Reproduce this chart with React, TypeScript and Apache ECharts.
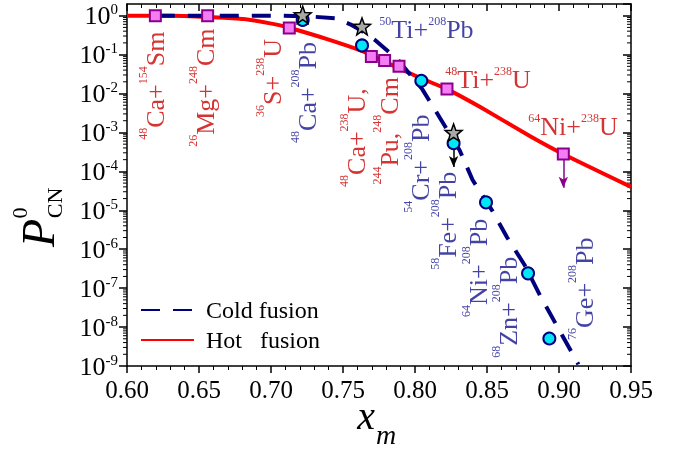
import React, { useEffect, useRef } from 'react';
import * as echarts from 'echarts';

const FONT = 'Liberation Serif';

// ---- Hot fusion curve (x_m, P_CN) ----
const hotCurveX = [0.600, 0.620, 0.640, 0.656, 0.681, 0.704, 0.7127, 0.739, 0.7643, 0.7697, 0.8037, 0.8222, 0.8453, 0.880, 0.9028, 0.950];
const hotCurveP = [1.0, 1.0, 0.98, 0.93, 0.82, 0.59, 0.49, 0.25, 0.12, 0.095, 0.025, 0.013, 4.5e-3, 8e-4, 2.8e-4, 4e-5];

// ---- Cold fusion curve ----
const coldCurveX = [0.620, 0.700, 0.725, 0.745, 0.755, 0.762, 0.772, 0.788, 0.805, 0.8145, 0.831, 0.840, 0.8535, 0.864, 0.876, 0.887, 0.899, 0.9135];
const coldCurveP = [1.0, 1.0, 0.97, 0.85, 0.6, 0.43, 0.24, 0.075, 0.013, 3.5e-3, 3.5e-4, 6e-5, 1.0e-5, 2e-6, 4e-7, 6.3e-8, 1e-8, 1.1e-9];

// ---- Hot fusion reactions (squares) ----
const hotPointX = [0.6197, 0.656, 0.7127, 0.7697, 0.7789, 0.7889, 0.8222, 0.9030];
const hotPointP = [1.0, 1.0, 0.48, 0.090, 0.071, 0.050, 0.013, 2.8e-4];

// ---- Cold fusion reactions (circles) ----
const coldPointX = [0.722, 0.7632, 0.8044, 0.8268, 0.8493, 0.8785, 0.8933];
const coldPointP = [0.78, 0.172, 0.0213, 5.3e-4, 1.6e-5, 2.4e-7, 5.1e-9];

// ---- Stars ----
const starX = [0.722, 0.7632, 0.8268];
const starP = [1.05, 0.53, 1.0e-3];

// ---- Upper-limit arrows [x, from P, to P] ----
const blackArrow = [0.8268, 1.0e-3, 1.3e-4];
const purpleArrow = [0.9030, 2.8e-4, 3.8e-5];

// ---- Reaction labels ----
const rotatedLabels = [
  '{s|48}{m|Ca+}{s|154}{m|Sm}',
  '{s|26}{m|Mg+}{s|248}{m|Cm}',
  '{s|36}{m|S+}{s|238}{m|U}',
  '{s|48}{m|Ca+}{s|208}{m|Pb}',
  '{s|48}{m|Ca+}{s|238}{m|U,}',
  '{s|244}{m|Pu,}{s|248}{m|Cm}',
  '{s|54}{m|Cr+}{s|208}{m|Pb}',
  '{s|58}{m|Fe+}{s|208}{m|Pb}',
  '{s|64}{m|Ni+}{s|208}{m|Pb}',
  '{s|68}{m|Zn+}{s|208}{m|Pb}',
  '{s|76}{m|Ge+}{s|208}{m|Pb}',
];
const rotatedIsHot = [true, true, true, false, true, true, false, false, false, false, false];
const rotatedAnchorX = [0.6197, 0.6544, 0.7009, 0.7252, 0.7592, 0.7821, 0.8037, 0.8224, 0.8440, 0.8648, 0.9176];
const rotatedAnchorLog = [-3.19, -3.37, -2.60, -3.27, -4.40, -4.34, -5.06, -6.53, -7.74, -8.79, -8.33];

const flatLabels = [
  '{s|50}{m|Ti+}{s|208}{m|Pb}',
  '{s|48}{m|Ti+}{s|238}{m|U}',
  '{s|64}{m|Ni+}{s|238}{m|U}',
];
const flatIsHot = [false, true, true];
const flatAnchorX = [0.7752, 0.8210, 0.8787];
const flatAnchorLog = [-0.347, -1.645, -2.853];

const RED_TEXT = '#cc0000';
const BLUE_TEXT = '#141490';
const NAVY = '#00007f';

const STAR = 'path://M0,-1 L0.247,-0.34 L0.951,-0.309 L0.399,0.13 L0.588,0.809 L0,0.42 L-0.588,0.809 L-0.399,0.13 L-0.951,-0.309 L-0.247,-0.34 Z';

export default function App() {
  const ref = useRef<HTMLDivElement>(null);

  useEffect(() => {
    const chart = echarts.init(ref.current!, null, { renderer: 'svg' });
    const lg = (p: number) => Math.log10(p);
    const pairs = (xs: number[], ps: number[]) => xs.map((x, i) => [x, lg(ps[i])]);

    // log minor tick positions (axis decoration)
    const minorLogs: number[][] = [];
    for (let d = -9; d <= 0; d++) {
      for (let k = 2; k <= 9; k++) {
        const v = d + Math.log10(k);
        if (v < 0.3) minorLogs.push([0.6, v]);
      }
    }

    const axisLine = { show: true, onZero: false, lineStyle: { color: '#000', width: 1.5 } };

    const option: any = {
      animation: false,
      textStyle: { fontFamily: FONT },
      grid: { left: 127, right: 50, top: 4, bottom: 84, containLabel: false },
      legend: {
        data: ['Cold fusion', 'Hot   fusion'],
        orient: 'vertical',
        left: 135,
        top: 293,
        itemWidth: 53,
        itemHeight: 14,
        itemGap: 6,
        selectedMode: false,
        itemStyle: { color: 'transparent', borderColor: 'transparent', borderWidth: 0, opacity: 0 },
        textStyle: { fontFamily: FONT, fontSize: 24, color: '#000', padding: [0, 0, 0, 7] },
      },
      xAxis: [
        {
          type: 'value', position: 'bottom', min: 0.6, max: 0.95, interval: 0.05,
          axisLine,
          axisTick: { show: true, inside: false, length: 7, lineStyle: { color: '#000', width: 1.5 } },
          minorTick: { show: true, splitNumber: 5, length: 4, lineStyle: { color: '#000', width: 1 } },
          axisLabel: { formatter: (v: number) => v.toFixed(2), fontFamily: FONT, fontSize: 25, color: '#000', margin: 11 },
          splitLine: { show: false },
          minorSplitLine: { show: false },
        },
        {
          type: 'value', position: 'top', min: 0.6, max: 0.95, interval: 0.05,
          axisLine,
          axisTick: { show: true, inside: true, length: 7, lineStyle: { color: '#000', width: 1.5 } },
          minorTick: { show: true, splitNumber: 5, length: 4, lineStyle: { color: '#000', width: 1 } },
          axisLabel: { show: false },
          splitLine: { show: false },
        },
      ],
      yAxis: [
        {
          type: 'value', position: 'left', min: -9, max: 0.3, interval: 1,
          axisLine,
          axisTick: { show: true, inside: false, length: 8, lineStyle: { color: '#000', width: 1.5 } },
          axisLabel: {
            showMaxLabel: false,
            margin: 9,
            fontFamily: FONT,
            fontSize: 26,
            color: '#000',
            formatter: (v: number) => (Math.abs(v - Math.round(v)) > 1e-6 ? '' : `{a|10}{b|${Math.round(v)}}`),
            rich: {
              a: { fontFamily: FONT, fontSize: 26, lineHeight: 28, color: '#000' },
              b: { fontFamily: FONT, fontSize: 15, lineHeight: 14, color: '#000', verticalAlign: 'top' },
            },
          },
          splitLine: { show: false },
        },
        {
          type: 'value', position: 'right', min: -9, max: 0.3, interval: 1,
          axisLine,
          axisTick: { show: true, inside: true, length: 8, lineStyle: { color: '#000', width: 1.5 } },
          axisLabel: { show: false },
          splitLine: { show: false },
        },
      ],
      series: [
        {
          name: 'Hot   fusion', type: 'line', data: pairs(hotCurveX, hotCurveP),
          symbol: 'none', smooth: 0.2, z: 2,
          itemStyle: { color: '#ff0000' },
          lineStyle: { color: '#ff0000', width: 4 },
        },
        {
          name: 'Cold fusion', type: 'line', data: pairs(coldCurveX, coldCurveP),
          symbol: 'none', z: 3,
          itemStyle: { color: NAVY },
          lineStyle: { color: NAVY, width: 4, type: [19, 13], cap: 'butt' },
        },
        {
          name: 'hotPts', type: 'scatter', data: pairs(hotPointX, hotPointP),
          symbol: 'rect', symbolSize: 11, z: 5,
          itemStyle: { color: '#f47cf4', borderColor: '#8b008b', borderWidth: 2, opacity: 1 },
          markLine: {
            silent: true, symbol: ['none', 'arrow'], symbolSize: [7, 11],
            label: { show: false },
            lineStyle: { color: '#8b008b', width: 1.5, type: 'solid' },
            data: [[{ coord: [purpleArrow[0], lg(purpleArrow[1])] }, { coord: [purpleArrow[0], lg(purpleArrow[2])] }]],
          },
        },
        {
          name: 'coldPts', type: 'scatter', data: pairs(coldPointX, coldPointP),
          symbol: 'circle', symbolSize: 12, z: 5,
          itemStyle: { color: '#00e8f4', borderColor: NAVY, borderWidth: 2, opacity: 1 },
        },
        {
          name: 'stars', type: 'scatter', data: pairs(starX, starP),
          symbol: STAR, symbolSize: 17, z: 6,
          itemStyle: { color: '#a8a8a8', borderColor: '#000', borderWidth: 1.5, opacity: 1 },
          markLine: {
            silent: true, symbol: ['none', 'arrow'], symbolSize: [7, 11],
            label: { show: false },
            lineStyle: { color: '#000', width: 1.5, type: 'solid' },
            data: [[{ coord: [blackArrow[0], lg(blackArrow[1])] }, { coord: [blackArrow[0], lg(blackArrow[2])] }]],
          },
        },
        {
          name: 'rotLabels', type: 'scatter', z: 7, silent: true,
          symbol: 'circle', symbolSize: 0,
          itemStyle: { color: 'transparent' },
          data: rotatedAnchorX.map((x, i) => ({
            value: [x, rotatedAnchorLog[i]],
            label: { color: rotatedIsHot[i] ? RED_TEXT : BLUE_TEXT },
          })),
          label: {
            show: true, position: 'inside', rotate: 90, align: 'left', verticalAlign: 'middle',
            fontFamily: FONT, fontSize: 26,
            formatter: (p: any) => rotatedLabels[p.dataIndex],
            rich: {
              m: { fontFamily: FONT, fontSize: 26, lineHeight: 37 },
              s: { fontFamily: FONT, fontSize: 12, lineHeight: 12, verticalAlign: 'top' },
            },
          },
        },
        {
          name: 'flatLabels', type: 'scatter', z: 7, silent: true,
          symbol: 'circle', symbolSize: 0,
          itemStyle: { color: 'transparent' },
          data: flatAnchorX.map((x, i) => ({
            value: [x, flatAnchorLog[i]],
            label: { color: flatIsHot[i] ? RED_TEXT : BLUE_TEXT },
          })),
          label: {
            show: true, position: 'inside', align: 'left', verticalAlign: 'middle',
            fontFamily: FONT, fontSize: 26,
            formatter: (p: any) => flatLabels[p.dataIndex],
            rich: {
              m: { fontFamily: FONT, fontSize: 26, lineHeight: 29 },
              s: { fontFamily: FONT, fontSize: 12, lineHeight: 12, verticalAlign: 'top' },
            },
          },
        },
        {
          name: 'minorTicks', type: 'custom', clip: false, silent: true, z: 1,
          data: minorLogs,
          renderItem: (_params: any, api: any) => {
            const v = api.value(1);
            const l = api.coord([0.6, v]);
            const r = api.coord([0.95, v]);
            return {
              type: 'group',
              children: [
                { type: 'line', shape: { x1: l[0] - 4, y1: l[1], x2: l[0], y2: l[1] }, style: { stroke: '#000', lineWidth: 1 } },
                { type: 'line', shape: { x1: r[0] - 4, y1: r[1], x2: r[0], y2: r[1] }, style: { stroke: '#000', lineWidth: 1 } },
              ],
            };
          },
        },
      ],
      graphic: [
        { type: 'text', x: 366, y: 415, style: { text: 'x', font: `italic 40px "Liberation Serif"`, lineHeight: 20, fill: '#000', align: 'center', verticalAlign: 'middle' } },
        { type: 'text', x: 386, y: 434, style: { text: 'm', font: `italic 28px "Liberation Serif"`, fill: '#000', align: 'center', verticalAlign: 'middle' } },
        { type: 'text', x: 38, y: 233, rotation: Math.PI / 2, style: { text: 'P', font: `italic 46px "Liberation Serif"`, fill: '#000', align: 'center', verticalAlign: 'middle' } },
        { type: 'text', x: 19, y: 213, rotation: Math.PI / 2, style: { text: '0', font: `22px "Liberation Serif"`, fill: '#000', align: 'center', verticalAlign: 'middle' } },
        { type: 'text', x: 54, y: 203, rotation: Math.PI / 2, style: { text: 'CN', font: `22px "Liberation Serif"`, fill: '#000', align: 'center', verticalAlign: 'middle' } },
      ],
    };

    chart.setOption(option);
    return () => chart.dispose();
  }, []);

  return <div ref={ref} style={{ position: 'fixed', left: 0, top: 0, width: 681, height: 450 }} />;
}
